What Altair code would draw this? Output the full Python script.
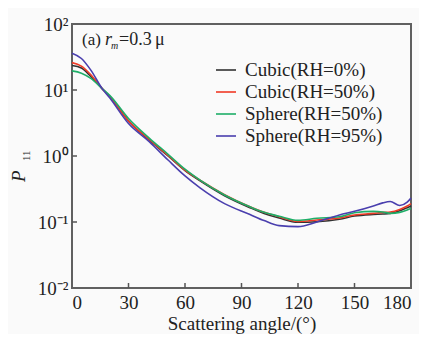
import altair as alt
import pandas as pd

angles = [0, 5, 10, 16, 20, 30, 41, 51, 60, 68, 81, 94.5, 102, 110, 120, 130, 142, 150, 160, 165, 169, 174, 178, 180]

cubic0 = [23.5, 21.5, 16, 10.5, 8.0, 3.4, 1.75, 1.0, 0.6, 0.42, 0.25, 0.165, 0.135, 0.115, 0.099, 0.101, 0.11, 0.123, 0.13, 0.132, 0.135, 0.148, 0.165, 0.175]
cubic50 = [26, 23, 17, 10.5, 8.0, 3.4, 1.78, 1.02, 0.61, 0.43, 0.26, 0.17, 0.14, 0.12, 0.102, 0.107, 0.115, 0.128, 0.135, 0.14, 0.142, 0.155, 0.175, 0.19]
sphere50 = [19.5, 18, 15, 10.5, 8.3, 3.7, 1.87, 1.06, 0.63, 0.43, 0.257, 0.17, 0.14, 0.122, 0.106, 0.114, 0.12, 0.138, 0.145, 0.142, 0.135, 0.14, 0.152, 0.16]
sphere95 = [36, 30, 20, 10.5, 7.6, 3.1, 1.65, 0.87, 0.5, 0.33, 0.19, 0.13, 0.105, 0.088, 0.085, 0.1, 0.128, 0.145, 0.175, 0.195, 0.204, 0.178, 0.2, 0.23]

series_names = ["Cubic(RH=0%)", "Cubic(RH=50%)", "Sphere(RH=50%)", "Sphere(RH=95%)"]
series_colors = ["#333333", "#f03a26", "#1fae68", "#4a3fae"]

x_ticks = [0, 30, 60, 90, 120, 150, 180]
y_ticks = [0.01, 0.1, 1, 10, 100]
y_tick_labels = ["10\u207b\u00b2", "10\u207b\u00b9", "10\u2070", "10\u00b9", "10\u00b2"]
inner_x_ticks = [30, 60, 90, 120, 150]
inner_y_ticks = [0.1, 1, 10]

rows = []
for name, vals in zip(series_names, [cubic0, cubic50, sphere50, sphere95]):
    for a, v in zip(angles, vals):
        rows.append({"angle": a, "P11": v, "series": name})
df = pd.DataFrame(rows)

FONT = "Liberation Serif"
W, H = 339, 264

label_expr = " : ".join(
    f"datum.value == {v} ? '{t}'" for v, t in zip(y_ticks, y_tick_labels)
) + " : ''"

xscale = alt.Scale(domain=[0, 180], nice=False)
yscale = alt.Scale(type="log", domain=[0.01, 100], nice=False)

lines = alt.Chart(df).mark_line(strokeWidth=1.6, interpolate="monotone").encode(
    x=alt.X("angle:Q", scale=xscale,
            axis=alt.Axis(values=x_ticks, title="Scattering angle/(\u00b0)", grid=False,
                          ticks=False, domain=False, labelPadding=5, titlePadding=2,
                          labelFont=FONT, labelFontSize=19, titleFont=FONT,
                          titleFontSize=19, titleFontWeight="normal", labelColor="#222",
                          titleColor="#222")),
    y=alt.Y("P11:Q", scale=yscale,
            axis=alt.Axis(values=y_ticks, labelExpr=label_expr, title=None, grid=False,
                          ticks=False, domain=False, labelPadding=4,
                          labelFont=FONT, labelFontSize=19, labelColor="#222")),
    color=alt.Color("series:N", sort=series_names,
                    scale=alt.Scale(domain=series_names, range=series_colors),
                    legend=alt.Legend(title=None, orient="none", legendX=143, legendY=35,
                                      symbolType="stroke", symbolSize=400,
                                      symbolStrokeWidth=1.6, labelFont=FONT,
                                      labelFontSize=19, labelColor="#222",
                                      labelOffset=8, rowPadding=1, padding=0)),
)

xt = alt.Chart(pd.DataFrame({"t": inner_x_ticks})).mark_rule(color="#555", strokeWidth=1.5).encode(
    x=alt.X("t:Q", scale=xscale), y=alt.value(H), y2=alt.value(H - 5))
yt = alt.Chart(pd.DataFrame({"t": inner_y_ticks})).mark_rule(color="#555", strokeWidth=1.5).encode(
    y=alt.Y("t:Q", scale=yscale), x=alt.value(0), x2=alt.value(5))

one = pd.DataFrame({"k": [0]})

def txt(s, x, y, size=19, style="normal", angle=0):
    kw = dict(font=FONT, fontSize=size, fontStyle=style, align="left",
              baseline="alphabetic", color="#222")
    if angle:
        kw["angle"] = angle
    return alt.Chart(one).mark_text(**kw).encode(
        x=alt.value(x), y=alt.value(y), text=alt.value(s))

labels = [
    txt("(a)", 10, 21, size=17),
    txt("r", 33, 21, size=18, style="italic"),
    txt("m", 39, 25, size=10, style="italic"),
    txt("=0.3", 47, 21, size=18),
    txt("\u03bc", 83, 21, size=18),
    txt("P", -47, 158, style="italic", angle=270),
    txt("11", -42, 137, size=11, angle=270),
]

chart = alt.layer(lines, xt, yt, *labels).properties(
    width=W, height=H,
    autosize=alt.AutoSizeParams(type="none"),
    padding={"left": 64, "top": 16, "right": 8, "bottom": 46},
    background="#fafafa",
).configure_view(stroke="#606060", strokeWidth=2)

chart.save("out.html", embed_options={"renderer": "svg", "actions": False})
